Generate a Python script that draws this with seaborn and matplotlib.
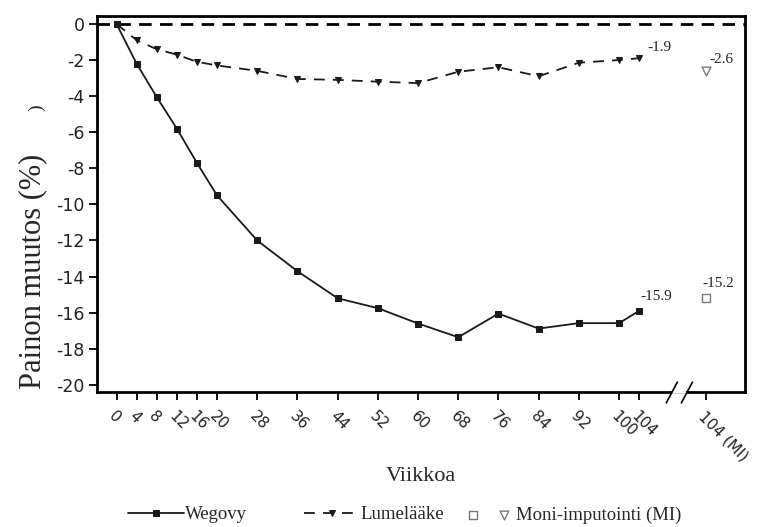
import matplotlib
matplotlib.use("Agg")
import matplotlib.pyplot as plt
import seaborn as sns
import numpy as np
from matplotlib.legend_handler import HandlerTuple

weeks = [0, 4, 8, 12, 16, 20, 28, 36, 44, 52, 60, 68, 76, 84, 92, 100, 104]
wegovy = [0, -2.2, -4.05, -5.8, -7.7, -9.5, -12.0, -13.7, -15.2, -15.75, -16.6,
          -17.36, -16.05, -16.88, -16.58, -16.58, -15.9]
placebo = [0, -0.9, -1.4, -1.7, -2.1, -2.3, -2.6, -3.05, -3.1, -3.2, -3.28,
           -2.65, -2.4, -2.9, -2.15, -2.0, -1.9]
mi_week = 117.3
mi_wegovy = -15.2
mi_placebo = -2.6
tick_labels = [str(w) for w in weeks] + ["104 (MI)"]
yticks = list(range(0, -21, -2))

sns.set_theme(style="white")
plt.rcParams['font.family'] = ['DejaVu Sans']
serif = ['Liberation Serif', 'DejaVu Serif']

fig = plt.figure(figsize=(7.63, 5.27), dpi=100)
ax = fig.add_axes([0.127, 0.256, 0.849, 0.714])

ax.axhline(0, color='black', lw=2.0, ls=(0, (4.5, 3)), zorder=1)

sns.lineplot(x=weeks, y=wegovy, ax=ax, color='#1a1a1a', lw=1.3, marker='s',
             markersize=5, markeredgecolor='#1a1a1a', label='Wegovy', zorder=3)
sns.lineplot(x=weeks, y=placebo, ax=ax, color='#1a1a1a', lw=1.3, marker='v',
             markersize=5, markeredgecolor='#1a1a1a', label='Lumelääke', zorder=3)
ax.lines[-1].set_linestyle((0, (6, 4.5)))

sq = ax.scatter([mi_week], [mi_wegovy], marker='s', s=36, facecolors='white',
                edgecolors='#777777', linewidths=1.0, zorder=4)
tri = ax.scatter([mi_week], [mi_placebo], marker='v', s=40, facecolors='white',
                 edgecolors='#777777', linewidths=1.0, zorder=4)

ax.text(weeks[-1] + 1.6, placebo[-1] + 0.25, "-1.9", fontsize=11, family=serif,
        ha='left', va='bottom')
ax.text(weeks[-1] + 0.3, wegovy[-1] + 0.45, "-15.9", fontsize=11, family=serif,
        ha='left', va='bottom')
ax.text(mi_week + 0.7, mi_placebo + 0.25, "-2.6", fontsize=11, family=serif,
        ha='left', va='bottom')
ax.text(mi_week - 0.7, mi_wegovy + 0.45, "-15.2", fontsize=11, family=serif,
        ha='left', va='bottom')

ax.set_xlim(-3.9, 125)
ax.set_ylim(-20.4, 0.45)
ax.set_xticks(weeks + [mi_week])
ax.set_xticklabels(tick_labels, rotation=-45, ha='left', va='top',
                   rotation_mode='anchor', fontsize=11, color='#222222')
ax.set_yticks(yticks)
ax.set_yticklabels([str(v) for v in yticks], fontsize=12.5, color='#222222')
ax.tick_params(axis='both', direction='out', length=6, width=1.3,
               color='black', bottom=True, left=True, pad=3)
ax.tick_params(axis='x', pad=6)

for s in ax.spines.values():
    s.set_color('black')
    s.set_linewidth(2)

# axis break marks
ax.plot([110.6, 113.4], [-20.4, -20.4], color='white', lw=2.6, clip_on=False,
        zorder=5, solid_capstyle='butt')
for xc in (110.5, 113.5):
    ax.plot([xc - 1.1, xc + 1.1], [-21.0, -19.85], color='black',
            lw=1.2, clip_on=False, zorder=6)

ax.set_xlabel("Viikkoa", family=serif, fontsize=16, labelpad=2)
ax.set_ylabel("Painon muutos (%)", family=serif, fontsize=22)
ax.yaxis.set_label_coords(-0.076, 0.322)
fig.text(0.048, 0.795, ")", family=serif, fontsize=14, rotation=90,
         ha='center', va='center')

handles, labels = ax.get_legend_handles_labels()
if ax.get_legend() is not None:
    ax.get_legend().remove()
leg1 = fig.legend(handles[:2], ['Wegovy', 'Lumelääke'],
                  loc='center left', bbox_to_anchor=(0.168, 0.023), ncol=2,
                  frameon=False, prop={'family': serif, 'size': 13.5},
                  handlelength=3.0, columnspacing=3.0, handletextpad=0.05,
                  borderpad=0, borderaxespad=0)
leg2 = fig.legend([(sq, tri)], ['Moni-imputointi (MI)'],
                  handler_map={tuple: HandlerTuple(ndivide=None, pad=1.0)},
                  loc='center left', bbox_to_anchor=(0.612, 0.023),
                  frameon=False, prop={'family': serif, 'size': 13.5},
                  handlelength=2.3, handletextpad=0.3,
                  borderpad=0, borderaxespad=0)

fig.savefig("out.png", dpi=100, facecolor='white')
